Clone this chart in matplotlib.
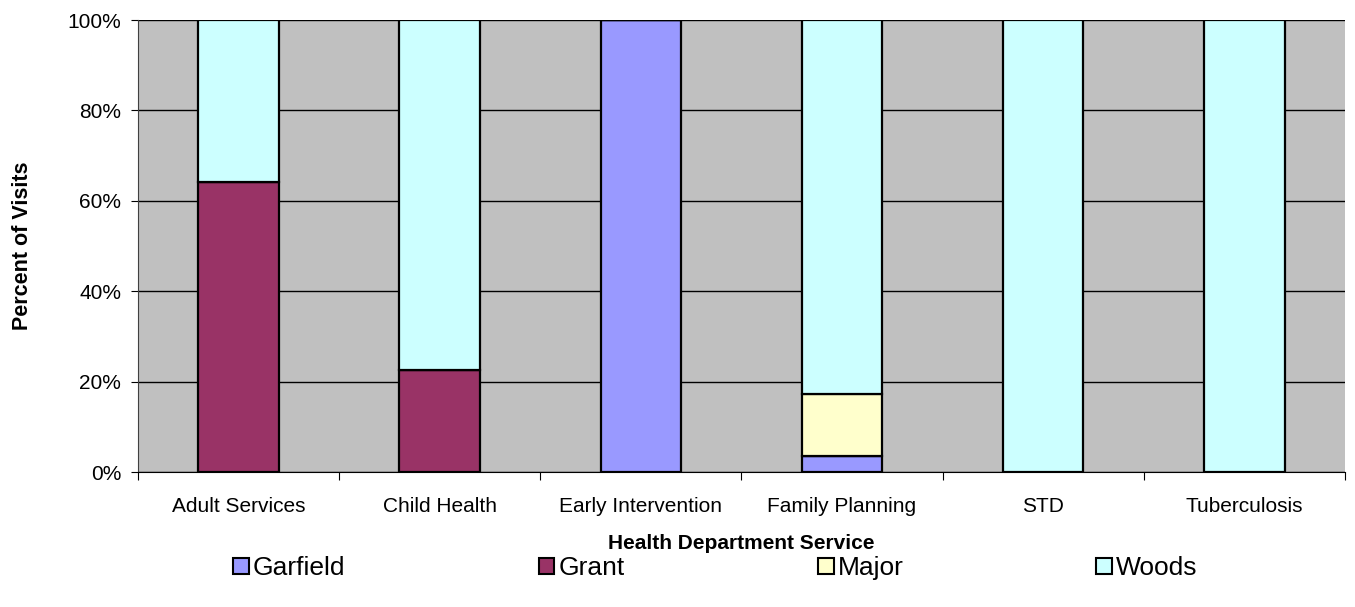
import matplotlib.pyplot as plt
from matplotlib.patches import Patch
from matplotlib.ticker import FixedLocator, PercentFormatter
import numpy as np

plt.rcParams['font.family'] = ['Liberation Sans', 'DejaVu Sans']

services = ['Adult Services', 'Child Health', 'Early Intervention',
            'Family Planning', 'STD', 'Tuberculosis']
garfield = [0.0, 0.0, 100.0, 3.6, 0.0, 0.0]
grant = [64.2, 22.6, 0.0, 0.0, 0.0, 0.0]
major = [0.0, 0.0, 0.0, 13.6, 0.0, 0.0]
woods = [35.8, 77.4, 0.0, 82.8, 100.0, 100.0]

series = [('Garfield', garfield, '#9999FF'),
          ('Grant', grant, '#993366'),
          ('Major', major, '#FFFFCC'),
          ('Woods', woods, '#CCFFFF')]

fig = plt.figure(figsize=(13.55, 6.07), dpi=100)
ax = fig.add_axes([0.1018, 0.2224, 0.8908, 0.7446])
ax.set_facecolor('#C0C0C0')

x = np.arange(len(services))
bottom = np.zeros(len(services))
for name, vals, col in series:
    vals = np.array(vals)
    ax.bar(x, vals, width=0.4, bottom=bottom, color=col,
           edgecolor='black', linewidth=1.6, zorder=3)
    bottom += vals

ax.set_xlim(-0.5, len(services) - 0.5)
ax.set_ylim(0, 100)
ax.yaxis.set_major_locator(FixedLocator([0, 20, 40, 60, 80, 100]))
ax.yaxis.set_major_formatter(PercentFormatter(decimals=0))
ax.grid(axis='y', color='black', linewidth=1, zorder=1)

# category boundaries get the ticks, names sit between them
ax.set_xticks(np.arange(len(services) + 1) - 0.5)
ax.set_xticklabels([])
ax.set_xticks(x, minor=True)
ax.set_xticklabels(services, minor=True, fontsize=15)
ax.tick_params(axis='x', which='minor', length=0, pad=18)
ax.tick_params(axis='x', which='major', length=6, color='black')
ax.tick_params(axis='y', labelsize=15, length=5, pad=7)

for s in ['top', 'right']:
    ax.spines[s].set_visible(False)
ax.spines['left'].set_color('#404040')
ax.spines['bottom'].set_color('black')

ax.set_xlabel('Health Department Service', fontsize=15, fontweight='bold',
              labelpad=13)
ax.set_ylabel('Percent of Visits', fontsize=15.5, fontweight='bold',
              labelpad=25)

handles = [Patch(facecolor=col, edgecolor='black', linewidth=1.5, label=name)
           for name, vals, col in series]
fig.legend(handles=handles, loc='lower left', ncol=4, mode='expand',
           bbox_to_anchor=(0.1545, 0.005, 0.747, 0.08), frameon=False,
           fontsize=19, handlelength=0.6, handleheight=0.6,
           handletextpad=0.15)

fig.savefig('out.png', dpi=100)
